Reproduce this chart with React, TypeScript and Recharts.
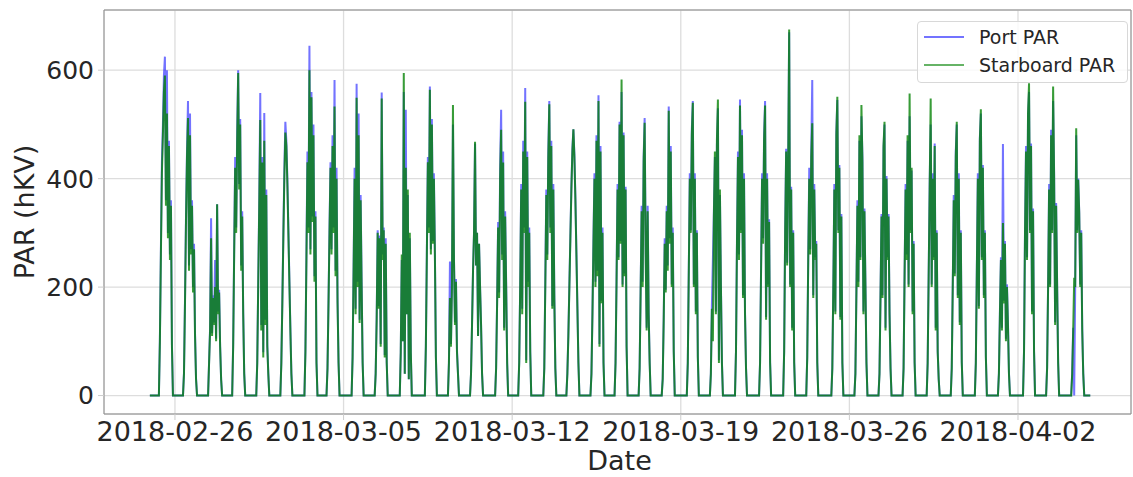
import React from 'react';
import { LineChart, Line, XAxis, YAxis, CartesianGrid, Legend, ReferenceLine } from 'recharts';

// hourly PAR readings, one row per day from 2018-02-25 to 2018-04-04
// each row starts at that day's dawn hour (UTC); all other hours read 0
const dawnHour = [
  8, 8, 9, 9, 9, 9, 9, 7, 8, 7, 8, 9, 8, 6, 7, 6, 7, 6, 6, 6,
  6, 5, 6, 5, 6, 6, 6, 5, 6, 5, 5, 5, 5, 5, 5, 4, 5, 4, 5,
];

const starboardPar = [
  [0, 100, 260, 410, 480, 560, 590, 350, 520, 290, 460, 250, 350, 90, 0], // 02-25
  [0, 40, 170, 320, 440, 512, 230, 480, 260, 350, 190, 270, 110, 30, 0],
  [0, 60, 120, 290, 110, 180, 130, 200, 100, 353, 150, 190, 90, 30, 0],
  [0, 90, 260, 420, 300, 470, 595, 380, 500, 230, 330, 150, 40, 0],
  [0, 60, 210, 350, 508, 120, 430, 70, 470, 130, 370, 90, 40, 0], // 03-01
  [0, 60, 170, 290, 400, 485, 460, 390, 300, 210, 120, 40, 0],
  [0, 80, 250, 430, 300, 600, 260, 550, 320, 480, 210, 330, 60, 0],
  [0, 50, 170, 300, 420, 260, 460, 300, 533, 220, 400, 170, 60, 0],
  [0, 70, 230, 400, 150, 549, 200, 480, 134, 360, 200, 60, 0], // 03-05
  [0, 40, 140, 300, 160, 290, 90, 548, 250, 305, 70, 280, 60, 0],
  [0, 80, 260, 100, 595, 40, 420, 150, 380, 30, 300, 80, 0],
  [0, 90, 260, 430, 300, 564, 260, 500, 280, 400, 260, 70, 0],
  [0, 60, 180, 90, 200, 536, 250, 130, 210, 80, 40, 0],
  [0, 40, 130, 230, 300, 468, 240, 300, 110, 280, 200, 130, 40, 0],
  [0, 50, 170, 310, 180, 400, 490, 250, 430, 120, 330, 200, 60, 0],
  [0, 60, 200, 380, 150, 450, 300, 542, 60, 440, 200, 300, 80, 0], // 03-12
  [0, 50, 200, 370, 250, 440, 537, 300, 460, 160, 380, 180, 50, 0],
  [0, 40, 110, 200, 290, 380, 450, 491, 440, 360, 260, 160, 60, 0],
  [0, 40, 150, 280, 400, 200, 470, 220, 543, 90, 450, 170, 300, 60, 0],
  [0, 60, 210, 380, 250, 500, 280, 583, 200, 480, 220, 380, 90, 0],
  [0, 50, 190, 340, 200, 430, 503, 260, 120, 340, 150, 60, 0],
  [0, 30, 140, 280, 190, 340, 230, 525, 280, 450, 200, 300, 80, 0],
  [0, 60, 230, 400, 300, 480, 540, 200, 400, 150, 300, 70, 0], // 03-19
  [0, 40, 160, 100, 330, 450, 150, 470, 546, 60, 380, 200, 60, 0],
  [0, 80, 280, 440, 250, 535, 300, 480, 180, 400, 150, 50, 0],
  [0, 60, 230, 400, 280, 470, 535, 140, 400, 200, 320, 60, 0],
  [0, 80, 300, 450, 240, 420, 675, 200, 380, 120, 300, 60, 0],
  [0, 70, 250, 400, 260, 440, 502, 180, 380, 250, 280, 60, 0],
  [0, 50, 200, 380, 150, 480, 551, 300, 420, 140, 330, 60, 0],
  [0, 40, 190, 350, 200, 480, 250, 536, 430, 150, 340, 200, 60, 0], // 03-26
  [0, 40, 180, 330, 180, 460, 505, 120, 400, 250, 330, 150, 50, 0],
  [0, 50, 220, 380, 250, 480, 200, 557, 300, 420, 150, 280, 60, 0],
  [0, 60, 220, 380, 548, 200, 400, 250, 460, 120, 300, 80, 30, 0],
  [0, 50, 200, 360, 220, 440, 505, 180, 400, 130, 300, 60, 0],
  [0, 60, 230, 400, 160, 470, 528, 250, 420, 180, 300, 70, 0],
  [0, 40, 150, 250, 120, 318, 170, 280, 100, 200, 130, 40, 0],
  [0, 80, 300, 450, 250, 520, 576, 300, 460, 150, 340, 80, 0], // 04-02
  [0, 50, 200, 380, 200, 480, 300, 570, 400, 130, 350, 200, 60, 0],
  [0, 40, 120, 217, 200, 493, 300, 398, 337, 200, 300, 120, 40, 0],
];

const portPar = [
  [0, 105, 270, 430, 500, 590, 625, 360, 600, 300, 470, 260, 360, 95, 0], // 02-25
  [0, 42, 175, 330, 450, 543, 240, 520, 270, 360, 200, 280, 115, 32, 0],
  [0, 62, 125, 327, 115, 185, 135, 250, 105, 353, 155, 195, 92, 30, 0],
  [0, 95, 270, 440, 310, 490, 600, 390, 510, 240, 340, 155, 42, 0],
  [0, 62, 215, 360, 558, 130, 440, 80, 521, 140, 380, 95, 42, 0], // 03-01
  [0, 62, 175, 300, 415, 505, 470, 400, 310, 215, 125, 42, 0],
  [0, 85, 260, 450, 310, 645, 270, 560, 330, 500, 220, 340, 65, 0],
  [0, 52, 175, 310, 430, 270, 480, 310, 582, 230, 420, 180, 62, 0],
  [0, 72, 240, 420, 160, 575, 210, 520, 140, 370, 210, 62, 0], // 03-05
  [0, 42, 145, 305, 165, 295, 95, 559, 260, 310, 75, 290, 62, 0],
  [0, 80, 250, 100, 560, 40, 527, 150, 370, 30, 290, 78, 0],
  [0, 92, 265, 440, 310, 570, 270, 510, 285, 410, 265, 72, 0],
  [0, 62, 247, 95, 205, 500, 255, 135, 215, 85, 42, 0],
  [0, 40, 130, 230, 300, 465, 240, 300, 110, 280, 200, 130, 40, 0],
  [0, 52, 175, 320, 190, 420, 527, 260, 450, 125, 340, 210, 62, 0],
  [0, 62, 205, 390, 160, 470, 310, 567, 65, 450, 210, 310, 82, 0], // 03-12
  [0, 52, 210, 380, 260, 450, 543, 310, 470, 165, 390, 185, 52, 0],
  [0, 42, 115, 205, 295, 385, 455, 491, 445, 365, 265, 165, 62, 0],
  [0, 42, 155, 290, 410, 210, 480, 230, 554, 95, 460, 175, 310, 62, 0],
  [0, 62, 215, 390, 255, 505, 285, 560, 205, 485, 225, 385, 92, 0],
  [0, 52, 195, 350, 210, 440, 512, 270, 125, 350, 155, 62, 0],
  [0, 32, 145, 290, 195, 350, 240, 533, 290, 460, 205, 310, 82, 0],
  [0, 62, 235, 410, 305, 490, 543, 205, 410, 155, 305, 72, 0], // 03-19
  [0, 42, 165, 252, 340, 440, 155, 460, 530, 65, 370, 205, 62, 0],
  [0, 82, 285, 450, 260, 546, 305, 490, 185, 410, 155, 52, 0],
  [0, 62, 235, 410, 290, 480, 543, 145, 410, 205, 325, 62, 0],
  [0, 82, 305, 455, 245, 425, 670, 205, 385, 125, 305, 62, 0],
  [0, 72, 255, 420, 270, 450, 582, 185, 390, 255, 285, 62, 0],
  [0, 52, 205, 390, 155, 485, 545, 305, 425, 145, 335, 62, 0],
  [0, 42, 195, 360, 210, 470, 255, 515, 440, 155, 345, 205, 62, 0], // 03-26
  [0, 42, 185, 335, 185, 455, 500, 125, 405, 255, 335, 155, 52, 0],
  [0, 52, 225, 390, 260, 470, 205, 515, 305, 415, 155, 285, 62, 0],
  [0, 62, 225, 390, 500, 205, 410, 255, 465, 125, 305, 82, 30, 0],
  [0, 52, 205, 370, 225, 450, 500, 185, 410, 135, 305, 62, 0],
  [0, 62, 235, 410, 165, 475, 520, 255, 425, 185, 305, 72, 0],
  [0, 42, 155, 255, 125, 464, 175, 285, 105, 205, 135, 42, 0],
  [0, 82, 305, 460, 255, 515, 560, 305, 465, 155, 345, 82, 0], // 04-02
  [0, 52, 205, 390, 205, 490, 305, 543, 410, 135, 355, 205, 62, 0],
  [0, 42, 125, 0, 200, 480, 305, 400, 340, 205, 305, 125, 42, 0],
];

const xTicks = ['2018-02-26', '2018-03-05', '2018-03-12', '2018-03-19', '2018-03-26', '2018-04-02'];
const yTicks = [0, 200, 400, 600];

const HOUR = 3600 * 1000;
const firstDay = Date.UTC(2018, 1, 25);

const data: any[] = [{ t: firstDay - HOUR, port: 0, stbd: 0 }];
starboardPar.forEach((day, d) => {
  for (let h = 0; h < 24; h++) {
    const i = h - dawnHour[d];
    const inDay = i >= 0 && i < day.length;
    data.push({
      t: firstDay + (d * 24 + h) * HOUR,
      port: inDay ? portPar[d][i] : 0,
      stbd: inDay ? day[i] : 0,
    });
  }
});
data.push({ t: firstDay + starboardPar.length * 24 * HOUR, port: 0, stbd: 0 });

const tickMs = xTicks.map((s) => Date.parse(s + 'T00:00:00Z'));
const xMin = Date.UTC(2018, 1, 23, 1, 18);
const xMax = Date.UTC(2018, 3, 6, 16, 36);
const yMin = -34;
const yMax = 711;

const font = '"DejaVu Sans", sans-serif';
const textColor = '#262626';
const spine = '#8c8c8c';

function fmtDate(v: number) {
  return new Date(v).toISOString().slice(0, 10);
}

function LegendBox() {
  const items = [
    { name: 'Port PAR', color: '#0000ff', op: 0.55 },
    { name: 'Starboard PAR', color: '#008000', op: 0.6 },
  ];
  return (
    <div
      style={{
        width: 209,
        height: 60,
        border: '1px solid #d8d8d8',
        borderRadius: 4,
        background: 'rgba(255,255,255,0.8)',
        fontFamily: font,
        fontSize: 19,
        color: textColor,
        position: 'relative',
      }}
    >
      {items.map((it, i) => (
        <div key={it.name} style={{ position: 'absolute', left: 6, top: 3 + i * 28, height: 24, display: 'flex', alignItems: 'center' }}>
          <div style={{ width: 40, height: 2, background: it.color, opacity: it.op }} />
          <span style={{ marginLeft: 15, whiteSpace: 'nowrap' }}>{it.name}</span>
        </div>
      ))}
    </div>
  );
}

export default function App() {
  return (
    <div style={{ position: 'absolute', left: 0, top: 0, background: '#fff' }}>
      <LineChart width={1133} height={477} data={data} margin={{ top: 10, right: 2, bottom: 0, left: 0 }}>
        <CartesianGrid stroke="#dddddd" strokeWidth={1.3} />
        <XAxis
          dataKey="t"
          type="number"
          scale="linear"
          domain={[xMin, xMax]}
          ticks={tickMs}
          tickFormatter={fmtDate}
          allowDataOverflow
          height={63}
          stroke={spine}
          tickSize={6}
          tickMargin={2}
          tickLine={{ stroke: '#cccccc' }}
          tick={{ fontSize: 27, fill: textColor, fontFamily: font }}
          label={{ value: 'Date', position: 'insideBottom', offset: 7, dx: 2, style: { fontSize: 27, fill: textColor, fontFamily: font } }}
        />
        <YAxis
          type="number"
          domain={[yMin, yMax]}
          ticks={yTicks}
          allowDataOverflow
          width={104}
          stroke={spine}
          tickSize={6}
          tickMargin={4}
          tickLine={{ stroke: '#cccccc' }}
          tick={{ fontSize: 25, fill: textColor, fontFamily: font }}
          label={{
            value: 'PAR (hKV)',
            angle: -90,
            position: 'insideLeft',
            offset: 24,
            style: { fontSize: 27, fill: textColor, fontFamily: font, textAnchor: 'middle' },
          }}
        />
        <ReferenceLine y={yMax} stroke={spine} ifOverflow="visible" />
        <ReferenceLine x={xMax} stroke={spine} ifOverflow="visible" />
        <Legend
          layout="horizontal"
          verticalAlign="middle"
          align="center"
          wrapperStyle={{ left: 917, top: 21, width: 211, height: 62 }}
          content={() => <LegendBox />}
        />
        <Line
          type="linear"
          dataKey="port"
          name="Port PAR"
          stroke="#0000ff"
          strokeOpacity={0.55}
          strokeWidth={2}
          dot={false}
          isAnimationActive={false}
        />
        <Line
          type="linear"
          dataKey="stbd"
          name="Starboard PAR"
          stroke="#008000"
          strokeOpacity={0.78}
          strokeWidth={2}
          dot={false}
          isAnimationActive={false}
        />
      </LineChart>
    </div>
  );
}
